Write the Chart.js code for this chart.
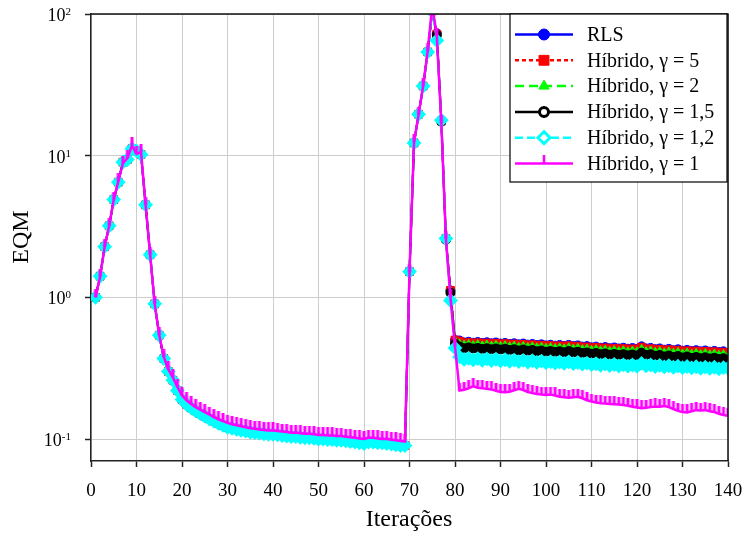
<!DOCTYPE html>
<html>
<head>
<meta charset="utf-8">
<script src="https://cdn.jsdelivr.net/npm/chart.js@4.4.0/dist/chart.umd.min.js"></script>
<style>
    html, body { margin: 0; padding: 0; background: #fff; }
    #grafico { display: block; }
</style>
</head>
<body>
<canvas id="grafico" width="745" height="535"></canvas>
<script>
// eixo x: iterações 1..140
const iteracoes = [];
for (let i = 1; i <= 140; i++) iteracoes.push(i);

// trecho comum (iterações 1..75), praticamente igual para RLS e híbridos γ = 5, 2, 1,5 e 1,2
const inicio = [
    1.00, 1.41, 2.28, 3.2, 4.9, 6.5, 9.0, 9.4, 11.2, 10.8,
    10.2, 4.5, 2.0, 0.90, 0.54, 0.37, 0.30, 0.26, 0.22, 0.19,
    0.176, 0.166, 0.158, 0.151, 0.145, 0.139, 0.134, 0.129, 0.125, 0.121,
    0.119, 0.117, 0.115, 0.114, 0.112, 0.111, 0.110, 0.109, 0.108, 0.108,
    0.107, 0.106, 0.105, 0.104, 0.104, 0.103, 0.102, 0.102, 0.101, 0.100,
    0.100, 0.099, 0.099, 0.098, 0.098, 0.097, 0.096, 0.095, 0.094, 0.093,
    0.095, 0.095, 0.094, 0.094, 0.093, 0.092, 0.091, 0.090, 0.090, 1.52,
    12.3, 19.6, 31, 54, 105
];

// iterações 76..140 de cada curva
const rlsFim = [
    73, 17.8, 2.6, 1.12, 0.50,
    0.496, 0.481, 0.486, 0.478, 0.484, 0.476, 0.482, 0.474, 0.480, 0.472,
    0.477, 0.469, 0.474, 0.466, 0.472, 0.464, 0.469, 0.461, 0.466, 0.458,
    0.463, 0.456, 0.461, 0.454, 0.462, 0.453, 0.458, 0.449, 0.453, 0.444,
    0.449, 0.441, 0.446, 0.438, 0.443, 0.436, 0.441, 0.434, 0.439, 0.433,
    0.451, 0.436, 0.440, 0.431, 0.436, 0.427, 0.433, 0.424, 0.430, 0.420,
    0.426, 0.418, 0.424, 0.416, 0.422, 0.414, 0.419, 0.411, 0.416, 0.404
];
const gama5Fim = [
    72, 17.6, 2.6, 1.12, 0.50,
    0.490, 0.475, 0.480, 0.472, 0.478, 0.470, 0.476, 0.468, 0.474, 0.466,
    0.471, 0.463, 0.468, 0.460, 0.466, 0.458, 0.463, 0.455, 0.460, 0.452,
    0.457, 0.450, 0.455, 0.448, 0.456, 0.447, 0.452, 0.443, 0.447, 0.438,
    0.443, 0.435, 0.440, 0.432, 0.437, 0.430, 0.435, 0.428, 0.433, 0.427,
    0.445, 0.430, 0.434, 0.425, 0.430, 0.421, 0.427, 0.418, 0.424, 0.414,
    0.420, 0.412, 0.418, 0.410, 0.416, 0.408, 0.413, 0.405, 0.410, 0.398
];
const gama2Fim = [
    72, 17.6, 2.6, 1.10, 0.49,
    0.470, 0.460, 0.465, 0.457, 0.463, 0.455, 0.461, 0.453, 0.459, 0.451,
    0.456, 0.448, 0.453, 0.445, 0.451, 0.443, 0.448, 0.440, 0.445, 0.437,
    0.442, 0.435, 0.440, 0.433, 0.441, 0.432, 0.437, 0.428, 0.432, 0.423,
    0.428, 0.420, 0.425, 0.417, 0.422, 0.415, 0.420, 0.413, 0.418, 0.412,
    0.430, 0.415, 0.419, 0.410, 0.415, 0.406, 0.412, 0.403, 0.409, 0.399,
    0.405, 0.397, 0.403, 0.395, 0.401, 0.393, 0.398, 0.390, 0.395, 0.383
];
const gama15Fim = [
    71, 17.4, 2.55, 1.08, 0.47,
    0.450, 0.438, 0.442, 0.435, 0.440, 0.432, 0.438, 0.430, 0.436, 0.428,
    0.433, 0.425, 0.430, 0.422, 0.428, 0.420, 0.425, 0.417, 0.422, 0.414,
    0.419, 0.412, 0.417, 0.410, 0.418, 0.409, 0.414, 0.405, 0.409, 0.400,
    0.405, 0.397, 0.402, 0.394, 0.399, 0.392, 0.397, 0.390, 0.395, 0.389,
    0.407, 0.392, 0.396, 0.387, 0.392, 0.383, 0.389, 0.380, 0.386, 0.376,
    0.382, 0.374, 0.380, 0.372, 0.378, 0.370, 0.375, 0.367, 0.372, 0.360
];
const gama12Fim = [
    65, 17.8, 2.6, 0.95, 0.44,
    0.380, 0.365, 0.372, 0.362, 0.370, 0.360, 0.368, 0.358, 0.366, 0.356,
    0.363, 0.354, 0.361, 0.352, 0.359, 0.350, 0.357, 0.348, 0.355, 0.346,
    0.352, 0.344, 0.350, 0.342, 0.351, 0.341, 0.347, 0.338, 0.343, 0.335,
    0.340, 0.332, 0.338, 0.330, 0.336, 0.328, 0.334, 0.327, 0.333, 0.326,
    0.342, 0.329, 0.333, 0.325, 0.331, 0.323, 0.329, 0.321, 0.327, 0.319,
    0.325, 0.318, 0.324, 0.316, 0.322, 0.315, 0.321, 0.313, 0.319, 0.316
];

// híbrido γ = 1 (curva completa)
const gama1Inicio = [
    1.00, 1.40, 2.28, 3.2, 4.9, 6.6, 8.8, 9.6, 11.8, 10.3,
    10.6, 4.5, 2.0, 0.90, 0.54, 0.38, 0.31, 0.272, 0.233, 0.203,
    0.188, 0.177, 0.168, 0.161, 0.155, 0.149, 0.143, 0.138, 0.134, 0.130,
    0.127, 0.125, 0.123, 0.121, 0.119, 0.118, 0.117, 0.116, 0.115, 0.115,
    0.114, 0.113, 0.112, 0.111, 0.111, 0.110, 0.109, 0.109, 0.108, 0.107,
    0.107, 0.106, 0.106, 0.105, 0.105, 0.104, 0.103, 0.102, 0.101, 0.100,
    0.102, 0.102, 0.101, 0.100, 0.100, 0.099, 0.098, 0.097, 0.096, 1.50,
    12.5, 19.5, 31, 55, 115
];
const gama1Fim = [
    70, 17, 2.6, 1.0, 0.45,
    0.220, 0.223, 0.228, 0.236, 0.230, 0.228, 0.226, 0.224, 0.219, 0.215,
    0.214, 0.216, 0.221, 0.226, 0.222, 0.215, 0.211, 0.208, 0.206, 0.205,
    0.206, 0.203, 0.199, 0.197, 0.196, 0.197, 0.199, 0.194, 0.188, 0.184,
    0.181, 0.179, 0.178, 0.177, 0.176, 0.175, 0.174, 0.172, 0.169, 0.167,
    0.165, 0.166, 0.168, 0.170, 0.169, 0.171, 0.168, 0.163, 0.158, 0.155,
    0.154, 0.157, 0.160, 0.159, 0.160, 0.157, 0.155, 0.151, 0.148, 0.146
];

// ticks do eixo y (décadas) e seus expoentes
const yDecadas = [0.1, 1, 10, 100];
const yExpoentes = ["-1", "0", "1", "2"];

const SERIF = "'Liberation Serif', 'Times New Roman', serif";

const serie = (a, b) => a.concat(b).map((v, i) => ({ x: iteracoes[i], y: v }));

// marcador do γ = 1: tracinho vertical acima do ponto
function tracinho(altura, largura) {
    const c = document.createElement("canvas");
    c.width = 6;
    c.height = altura * 2;
    const g = c.getContext("2d");
    g.fillStyle = "#ff00ff";
    g.fillRect(3 - largura / 2, 0, largura, altura);
    return c;
}
const tickPlot = tracinho(8, 3);
const tickLegenda = tracinho(9, 2.5);

const datasets = [
    {
        label: "RLS",
        data: serie(inicio, rlsFim),
        borderColor: "#0000ff", backgroundColor: "#0000ff",
        borderWidth: 2, pointStyle: "circle", pointRadius: 4.5, pointBorderWidth: 1,
        order: 6, raioLegenda: 5.5,
    },
    {
        label: "Híbrido, γ = 5",
        data: serie(inicio, gama5Fim),
        borderColor: "#ff0000", backgroundColor: "#ff0000", borderDash: [4, 3],
        borderWidth: 2, pointStyle: "rect", pointRadius: 5.5, pointBorderWidth: 1,
        order: 5, raioLegenda: 7,
    },
    {
        label: "Híbrido, γ = 2",
        data: serie(inicio, gama2Fim),
        borderColor: "#00ff00", backgroundColor: "#00ff00", borderDash: [9, 5],
        borderWidth: 2, pointStyle: "triangle", pointRadius: 5, pointBorderWidth: 1,
        order: 4, raioLegenda: 6,
    },
    {
        label: "Híbrido, γ = 1,5",
        data: serie(inicio, gama15Fim),
        borderColor: "#000000", backgroundColor: "#ffffff", pointBackgroundColor: "#000000",
        borderWidth: 2, pointStyle: "circle", pointRadius: 4, pointBorderWidth: 2,
        order: 3, raioLegenda: 4.5, bordaLegenda: 3,
    },
    {
        label: "Híbrido, γ = 1,2",
        data: serie(inicio, gama12Fim),
        borderColor: "#00ffff", backgroundColor: "#ffffff", pointBackgroundColor: "#00ffff",
        borderDash: [8, 4],
        borderWidth: 2, pointStyle: "rectRot", pointRadius: 6, pointBorderWidth: 2,
        order: 2, raioLegenda: 6, bordaLegenda: 3,
    },
    {
        label: "Híbrido, γ = 1",
        data: serie(gama1Inicio, gama1Fim),
        borderColor: "#ff00ff", backgroundColor: "#ff00ff",
        borderWidth: 2.5, pointStyle: tickPlot, pointRadius: 4,
        order: 1, raioLegenda: 5, marcaLegenda: tickLegenda,
    },
];

// moldura, rótulos 10^n, títulos dos eixos e legenda
const extras = {
    id: "extras",
    afterDraw(chart) {
        const { ctx, chartArea: a } = chart;
        const y = chart.scales.y;
        ctx.save();

        ctx.strokeStyle = "#111";
        ctx.lineWidth = 1.5;
        ctx.setLineDash([]);
        ctx.beginPath();
        ctx.moveTo(a.left, a.top);
        ctx.lineTo(a.right, a.top);
        ctx.lineTo(a.right, a.bottom);
        ctx.stroke();

        ctx.fillStyle = "#000";
        ctx.textAlign = "right";
        ctx.textBaseline = "alphabetic";
        yDecadas.forEach((v, i) => {
            const py = y.getPixelForValue(v);
            ctx.font = "11px " + SERIF;
            const w = ctx.measureText(yExpoentes[i]).width;
            ctx.fillText(yExpoentes[i], 71, py + 1);
            ctx.font = "18px " + SERIF;
            ctx.fillText("10", 71 - w, py + 7);
        });

        ctx.font = "24px " + SERIF;
        ctx.textAlign = "center";
        ctx.textBaseline = "middle";
        ctx.fillText("Iterações", 409, 520);
        ctx.save();
        ctx.translate(22, 237);
        ctx.rotate(-Math.PI / 2);
        ctx.fillText("EQM", 0, 0);
        ctx.restore();

        // legenda
        const L = { x: 510, y: 14, w: 217, h: 168 };
        ctx.fillStyle = "#fff";
        ctx.fillRect(L.x, L.y, L.w, L.h);
        ctx.strokeStyle = "#000";
        ctx.lineWidth = 1.2;
        ctx.strokeRect(L.x, L.y, L.w, L.h);
        chart.data.datasets.forEach((ds, i) => {
            const cy = 34.5 + i * 25.8;
            ctx.strokeStyle = ds.borderColor;
            ctx.lineWidth = 2.5;
            ctx.setLineDash(ds.borderDash || []);
            ctx.beginPath();
            ctx.moveTo(515, cy);
            ctx.lineTo(573, cy);
            ctx.stroke();
            ctx.setLineDash([]);
            const borda = ds.bordaLegenda || 1;
            ctx.fillStyle = ds.backgroundColor;
            ctx.lineWidth = borda;
            Chart.helpers.drawPoint(ctx, {
                pointStyle: ds.marcaLegenda || ds.pointStyle,
                radius: ds.raioLegenda,
                rotation: 0,
                borderWidth: borda,
            }, 544, cy);
            ctx.fillStyle = "#000";
            ctx.font = "20px " + SERIF;
            ctx.textAlign = "left";
            ctx.textBaseline = "middle";
            ctx.fillText(ds.label, 587, cy + 1);
        });

        ctx.restore();
    },
};

new Chart(document.getElementById("grafico"), {
    type: "line",
    data: { datasets },
    options: {
        responsive: false,
        animation: false,
        layout: { padding: { top: 14, right: 17, left: 0, bottom: 0 } },
        plugins: {
            legend: { display: false },
            tooltip: { enabled: false },
        },
        elements: { line: { tension: 0 } },
        scales: {
            x: {
                type: "linear",
                min: 0,
                max: 140,
                ticks: {
                    stepSize: 10,
                    color: "#000",
                    padding: 13,
                    maxRotation: 0,
                    font: { family: SERIF, size: 19 },
                },
                grid: { color: "#cdcdcd", lineWidth: 1, tickLength: 6, tickColor: "#222", tickWidth: 1.5 },
                border: { color: "#222", width: 1.5 },
                afterFit(s) {
                    s.height = 74;
                    s.paddingLeft = 0;
                    s.paddingRight = 0;
                },
            },
            y: {
                type: "logarithmic",
                min: 0.07,
                max: 100,
                afterBuildTicks(s) { s.ticks = yDecadas.map(v => ({ value: v })); },
                ticks: { display: false },
                grid: { color: "#cdcdcd", lineWidth: 1, tickLength: 6, tickColor: "#222", tickWidth: 1.5 },
                border: { color: "#222", width: 1.5 },
                afterFit(s) {
                    s.width = 91;
                    s.paddingTop = 0;
                    s.paddingBottom = 0;
                },
            },
        },
    },
    plugins: [extras],
});
</script>
</body>
</html>
